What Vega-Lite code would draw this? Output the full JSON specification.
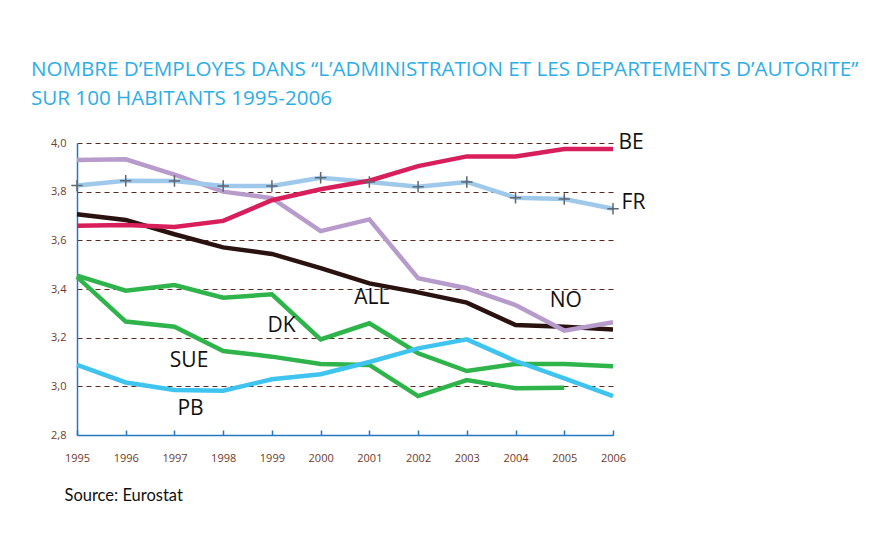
{
  "$schema": "https://vega.github.io/schema/vega-lite/v6.json",
  "width": 536,
  "height": 292,
  "autosize": "none",
  "padding": {"left": 77, "top": 143, "right": 259, "bottom": 119},
  "background": "white",
  "title": {
    "text": ["NOMBRE D’EMPLOYES DANS “L’ADMINISTRATION ET LES DEPARTEMENTS D’AUTORITE”", "SUR 100 HABITANTS 1995-2006"],
    "anchor": "start",
    "frame": "group",
    "dx": -46,
    "offset": 23,
    "font": "Open Sans",
    "fontSize": 20.6,
    "fontWeight": "normal",
    "color": "#2eaee6",
    "lineHeight": 29
  },
  "config": {
    "view": {"stroke": null},
    "axis": {"labelFont": "Open Sans", "labelColor": "#6e3b2e", "labelFontSize": 11}
  },
  "datasets": {
    "series": [
      {"country": "ALL", "year": 1995, "value": 3.707},
      {"country": "ALL", "year": 1996, "value": 3.684},
      {"country": "ALL", "year": 1997, "value": 3.625},
      {"country": "ALL", "year": 1998, "value": 3.571},
      {"country": "ALL", "year": 1999, "value": 3.544},
      {"country": "ALL", "year": 2000, "value": 3.486},
      {"country": "ALL", "year": 2001, "value": 3.423},
      {"country": "ALL", "year": 2002, "value": 3.386},
      {"country": "ALL", "year": 2003, "value": 3.344},
      {"country": "ALL", "year": 2004, "value": 3.252},
      {"country": "ALL", "year": 2005, "value": 3.245},
      {"country": "ALL", "year": 2006, "value": 3.234},
      {"country": "NO", "year": 1995, "value": 3.93},
      {"country": "NO", "year": 1996, "value": 3.933},
      {"country": "NO", "year": 1997, "value": 3.87},
      {"country": "NO", "year": 1998, "value": 3.8},
      {"country": "NO", "year": 1999, "value": 3.773},
      {"country": "NO", "year": 2000, "value": 3.638},
      {"country": "NO", "year": 2001, "value": 3.686},
      {"country": "NO", "year": 2002, "value": 3.444},
      {"country": "NO", "year": 2003, "value": 3.403},
      {"country": "NO", "year": 2004, "value": 3.334},
      {"country": "NO", "year": 2005, "value": 3.229},
      {"country": "NO", "year": 2006, "value": 3.263},
      {"country": "FR", "year": 1995, "value": 3.825},
      {"country": "FR", "year": 1996, "value": 3.845},
      {"country": "FR", "year": 1997, "value": 3.844},
      {"country": "FR", "year": 1998, "value": 3.823},
      {"country": "FR", "year": 1999, "value": 3.823},
      {"country": "FR", "year": 2000, "value": 3.857},
      {"country": "FR", "year": 2001, "value": 3.84},
      {"country": "FR", "year": 2002, "value": 3.82},
      {"country": "FR", "year": 2003, "value": 3.84},
      {"country": "FR", "year": 2004, "value": 3.775},
      {"country": "FR", "year": 2005, "value": 3.77},
      {"country": "FR", "year": 2006, "value": 3.73},
      {"country": "BE", "year": 1995, "value": 3.66},
      {"country": "BE", "year": 1996, "value": 3.663},
      {"country": "BE", "year": 1997, "value": 3.655},
      {"country": "BE", "year": 1998, "value": 3.68},
      {"country": "BE", "year": 1999, "value": 3.765},
      {"country": "BE", "year": 2000, "value": 3.81},
      {"country": "BE", "year": 2001, "value": 3.845},
      {"country": "BE", "year": 2002, "value": 3.905},
      {"country": "BE", "year": 2003, "value": 3.945},
      {"country": "BE", "year": 2004, "value": 3.945},
      {"country": "BE", "year": 2005, "value": 3.975},
      {"country": "BE", "year": 2006, "value": 3.975},
      {"country": "DK", "year": 1995, "value": 3.455},
      {"country": "DK", "year": 1996, "value": 3.393},
      {"country": "DK", "year": 1997, "value": 3.416},
      {"country": "DK", "year": 1998, "value": 3.364},
      {"country": "DK", "year": 1999, "value": 3.378},
      {"country": "DK", "year": 2000, "value": 3.193},
      {"country": "DK", "year": 2001, "value": 3.259},
      {"country": "DK", "year": 2002, "value": 3.136},
      {"country": "DK", "year": 2003, "value": 3.063},
      {"country": "DK", "year": 2004, "value": 3.092},
      {"country": "DK", "year": 2005, "value": 3.092},
      {"country": "DK", "year": 2006, "value": 3.083},
      {"country": "SUE", "year": 1995, "value": 3.45},
      {"country": "SUE", "year": 1996, "value": 3.266},
      {"country": "SUE", "year": 1997, "value": 3.245},
      {"country": "SUE", "year": 1998, "value": 3.145},
      {"country": "SUE", "year": 1999, "value": 3.122},
      {"country": "SUE", "year": 2000, "value": 3.092},
      {"country": "SUE", "year": 2001, "value": 3.088},
      {"country": "SUE", "year": 2002, "value": 2.96},
      {"country": "SUE", "year": 2003, "value": 3.026},
      {"country": "SUE", "year": 2004, "value": 2.992},
      {"country": "SUE", "year": 2005, "value": 2.994},
      {"country": "PB", "year": 1995, "value": 3.088},
      {"country": "PB", "year": 1996, "value": 3.016},
      {"country": "PB", "year": 1997, "value": 2.985},
      {"country": "PB", "year": 1998, "value": 2.982},
      {"country": "PB", "year": 1999, "value": 3.029},
      {"country": "PB", "year": 2000, "value": 3.05},
      {"country": "PB", "year": 2001, "value": 3.1},
      {"country": "PB", "year": 2002, "value": 3.156},
      {"country": "PB", "year": 2003, "value": 3.193},
      {"country": "PB", "year": 2004, "value": 3.104},
      {"country": "PB", "year": 2005, "value": 3.033},
      {"country": "PB", "year": 2006, "value": 2.96}
    ],
    "labels": [
      {"label": "BE", "year": 2006.37, "value": 3.998},
      {"label": "FR", "year": 2006.42, "value": 3.752},
      {"label": "NO", "year": 2005.03, "value": 3.35},
      {"label": "ALL", "year": 2001.05, "value": 3.363},
      {"label": "DK", "year": 1999.2, "value": 3.25},
      {"label": "SUE", "year": 1997.3, "value": 3.106},
      {"label": "PB", "year": 1997.33, "value": 2.905}
    ]
  },
  "encoding": {
    "x": {
      "field": "year",
      "type": "quantitative",
      "scale": {"domain": [1995, 2006], "nice": false, "zero": false},
      "axis": {
        "values": [1995, 1996, 1997, 1998, 1999, 2000, 2001, 2002, 2003, 2004, 2005, 2006],
        "format": "d",
        "grid": false,
        "domainColor": "#2477c0",
        "domainWidth": 1.5,
        "tickColor": "#2477c0",
        "tickWidth": 1.5,
        "tickSize": -5,
        "labelPadding": 22,
        "labelFlush": false,
        "title": "Source: Eurostat",
        "titleAnchor": "start",
        "titleAlign": "left",
        "titleX": -13,
        "titleY": 65,
        "titleBaseline": "alphabetic",
        "titleFont": "Lato",
        "titleFontSize": 16.5,
        "titleFontWeight": "normal",
        "titleColor": "#111111"
      }
    },
    "y": {
      "field": "value",
      "type": "quantitative",
      "scale": {"domain": [2.8, 4.0], "nice": false, "zero": false},
      "axis": {
        "values": [2.8, 3.0, 3.2, 3.4, 3.6, 3.8, 4.0],
        "labelExpr": "replace(format(datum.value, '.1f'), '.', ',')",
        "ticks": false,
        "labelPadding": 11,
        "domainColor": "#2477c0",
        "domainWidth": 1.5,
        "grid": true,
        "gridColor": "#5b2a1c",
        "gridDash": [5, 4],
        "gridWidth": 1,
        "title": null
      }
    }
  },
  "layer": [
    {
      "data": {"name": "series"},
      "mark": {"type": "line", "strokeWidth": 4.5},
      "encoding": {
        "color": {
          "field": "country",
          "type": "nominal",
          "scale": {
            "domain": ["ALL", "NO", "FR", "BE", "DK", "SUE", "PB"],
            "range": ["#2a1210", "#b79ccb", "#9fc9eb", "#d81f5b", "#2fb44b", "#2fb44b", "#3fc4f0"]
          },
          "legend": null
        }
      }
    },
    {
      "data": {"name": "series"},
      "transform": [{"filter": "datum.country === 'FR'"}],
      "mark": {
        "type": "point",
        "shape": "M-1,0H1M0,-1V1",
        "size": 130,
        "filled": false,
        "stroke": "#5d6770",
        "strokeWidth": 1.5,
        "opacity": 1
      },
      "encoding": {}
    },
    {
      "data": {"name": "labels"},
      "mark": {
        "type": "text",
        "font": "Open Sans",
        "fontSize": 21,
        "color": "#111111",
        "align": "center",
        "baseline": "middle"
      },
      "encoding": {"text": {"field": "label"}}
    }
  ]
}
